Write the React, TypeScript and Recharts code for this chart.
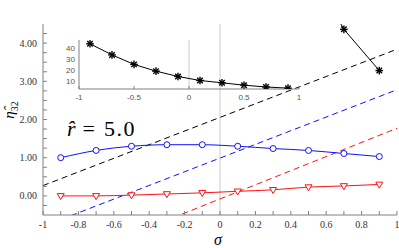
import React from 'react';
import { LineChart, Line, XAxis, YAxis, ReferenceLine } from 'recharts';

// ---- data ----
const sigma = [-0.9, -0.7, -0.5, -0.3, -0.1, 0.1, 0.3, 0.5, 0.7, 0.9];
const blueVals = [1.0, 1.19, 1.3, 1.34, 1.34, 1.3, 1.24, 1.19, 1.11, 1.03];
const redVals = [0.0, 0.0, 0.02, 0.05, 0.08, 0.12, 0.16, 0.23, 0.26, 0.3];
const starVals = [44.0, 33.8, 25.1, 18.9, 14.0, 10.3, 8.2, 6.0, 4.36, 3.28];
const dashX = [-1, 1];
const blackDash = [0.27, 3.84];
const blueDash = [-0.8, 2.78];
const redDash = [-1.93, 1.77];

const xTicks = [-1, -0.9, -0.8, -0.7, -0.6, -0.5, -0.4, -0.3, -0.2, -0.1, 0, 0.1, 0.2, 0.3, 0.4, 0.5, 0.6, 0.7, 0.8, 0.9, 1];
const xLabels = [-1, -0.8, -0.6, -0.4, -0.2, 0, 0.2, 0.4, 0.6, 0.8, 1];
const yTicks = [-0.25, 0, 0.25, 0.5, 0.75, 1, 1.25, 1.5, 1.75, 2, 2.25, 2.5, 2.75, 3, 3.25, 3.5, 3.75, 4, 4.25];
const yLabels = [0, 1, 2, 3, 4];
const insetXTicks = [-1, -0.5, 0, 0.5, 1];
const insetYTicks = [10, 20, 30, 40];

const zip = (xs: number[], ys: number[]) => xs.map((x, i) => ({ x, y: ys[i] }));

const blueData = zip(sigma, blueVals);
const redData = zip(sigma, redVals);
const starData = zip(sigma, starVals);
const blackDashData = zip(dashX, blackDash);
const blueDashData = zip(dashX, blueDash);
const redDashData = zip(dashX, redDash);

const AX = '#808080';
const SERIF = 'serif';
const SANS = 'Arial, Helvetica, sans-serif';

const isIn = (v: number, arr: number[]) => arr.some((a) => Math.abs(a - v) < 1e-6);

type TickOpts = {
  side: 'bottom' | 'top' | 'left' | 'right';
  labels: number[];
  showLabels: boolean;
  major: number;
  minor: number;
  off: number;
  fmt: (v: number) => string;
  font: string;
  size: number;
  color: string;
};

const makeTick = (o: TickOpts) => (props: any) => {
  const { x, y, payload } = props;
  const v = payload.value as number;
  const major = isIn(v, o.labels);
  const len = major ? o.major : o.minor;
  let x2 = x, y2 = y;
  if (o.side === 'bottom') y2 = y - len;
  if (o.side === 'top') y2 = y + len;
  if (o.side === 'left') x2 = x + len;
  if (o.side === 'right') x2 = x - len;
  let label = null;
  if (o.showLabels && major) {
    if (o.side === 'bottom') {
      label = (
        <text x={x} y={y + o.off} textAnchor="middle" style={{ fontFamily: o.font }} fontSize={o.size} fill={o.color}>
          {o.fmt(v)}
        </text>
      );
    } else if (o.side === 'left') {
      label = (
        <text x={x - o.off} y={y + o.size * 0.35} textAnchor="end" style={{ fontFamily: o.font }} fontSize={o.size} fill={o.color}>
          {o.fmt(v)}
        </text>
      );
    }
  }
  return (
    <g>
      {len > 0 ? <line x1={x} y1={y} x2={x2} y2={y2} stroke={AX} strokeWidth={1} /> : null}
      {label}
    </g>
  );
};

const fmtX = (v: number) => String(Math.round(v * 10) / 10);
const fmtY = (v: number) => v.toFixed(2);

const CircleDot = (props: any) => {
  const { cx, cy, index } = props;
  if (cx == null || cy == null) return <g key={index} />;
  return <circle key={index} cx={cx} cy={cy} r={3} stroke="#1010ff" strokeWidth={1} fill="white" />;
};

const TriDot = (props: any) => {
  const { cx, cy, index } = props;
  if (cx == null || cy == null) return <g key={index} />;
  const d = `M${cx - 3.5},${cy - 2.3} L${cx + 3.5},${cy - 2.3} L${cx},${cy + 3.7} Z`;
  return <path key={index} d={d} stroke="#ff1010" strokeWidth={1} fill="white" />;
};

const StarDot = (props: any) => {
  const { cx, cy, index } = props;
  if (cx == null || cy == null) return <g key={index} />;
  const r = 3.8;
  const q = r * 0.72;
  return (
    <g key={index} stroke="#000" strokeWidth={1.4}>
      <line x1={cx - r} y1={cy} x2={cx + r} y2={cy} />
      <line x1={cx} y1={cy - r} x2={cx} y2={cy + r} />
      <line x1={cx - q} y1={cy - q} x2={cx + q} y2={cy + q} />
      <line x1={cx - q} y1={cy + q} x2={cx + q} y2={cy - q} />
    </g>
  );
};

const mainTickCommon = { font: SERIF, size: 10, color: '#333', fmt: fmtX };
const insetTickCommon = { font: SANS, size: 8, color: '#555', fmt: fmtX };

export default function App() {
  return (
    <div style={{ position: 'absolute', left: 0, top: 0, width: 399, height: 248, background: 'white', overflow: 'hidden' }}>
      <div style={{ position: 'absolute', left: 0, top: 0 }}>
        <LineChart width={399} height={248} margin={{ top: 24, right: 2, bottom: 0, left: 0 }}>
          <XAxis
            xAxisId="b" type="number" dataKey="x" domain={[-1, 1]} allowDataOverflow ticks={xTicks} interval={0}
            height={33} tickSize={0} tickMargin={0} tickLine={false} axisLine={{ stroke: AX }}
            tick={makeTick({ ...mainTickCommon, side: 'bottom', labels: xLabels, showLabels: true, major: 4, minor: 4, off: 13 })}
          />
          <XAxis
            xAxisId="t" orientation="top" type="number" dataKey="x" domain={[-1, 1]} allowDataOverflow ticks={xTicks} interval={0}
            height={0} tickSize={0} tickMargin={0} tickLine={false} axisLine={{ stroke: AX }}
            tick={makeTick({ ...mainTickCommon, side: 'top', labels: xLabels, showLabels: false, major: 4, minor: 4, off: 0 })}
          />
          <YAxis
            yAxisId="l" type="number" domain={[-0.5, 4.5]} allowDataOverflow ticks={yTicks} interval={0}
            width={43} tickSize={0} tickMargin={0} tickLine={false} axisLine={{ stroke: AX }}
            tick={makeTick({ ...mainTickCommon, fmt: fmtY, side: 'left', labels: yLabels, showLabels: true, major: 4, minor: 4, off: 6 })}
          />
          <YAxis
            yAxisId="r" orientation="right" type="number" domain={[-0.5, 4.5]} allowDataOverflow ticks={yTicks} interval={0}
            width={0} tickSize={0} tickMargin={0} tickLine={false} axisLine={{ stroke: AX }}
            tick={makeTick({ ...mainTickCommon, fmt: fmtY, side: 'right', labels: yLabels, showLabels: false, major: 4, minor: 4, off: 0 })}
          />
          <ReferenceLine xAxisId="b" yAxisId="l" x={0} stroke="#cccccc" strokeWidth={1} />
          <Line xAxisId="b" yAxisId="l" data={blackDashData} dataKey="y" stroke="#000" strokeWidth={1} strokeDasharray="6 4" dot={false} isAnimationActive={false} />
          <Line xAxisId="b" yAxisId="l" data={blueDashData} dataKey="y" stroke="#1010ff" strokeWidth={1} strokeDasharray="6 4" dot={false} isAnimationActive={false} />
          <Line xAxisId="b" yAxisId="l" data={redDashData} dataKey="y" stroke="#ff1010" strokeWidth={1} strokeDasharray="6 4" dot={false} isAnimationActive={false} />
          <Line xAxisId="b" yAxisId="l" data={blueData} dataKey="y" type="monotone" stroke="#1010ff" strokeWidth={1} dot={CircleDot} isAnimationActive={false} />
          <Line xAxisId="b" yAxisId="l" data={redData} dataKey="y" type="monotone" stroke="#ff1010" strokeWidth={1} dot={TriDot} isAnimationActive={false} />
          <Line xAxisId="b" yAxisId="l" data={starData} dataKey="y" stroke="#000" strokeWidth={1} dot={StarDot} isAnimationActive={false} />
        </LineChart>
      </div>

      <div style={{ position: 'absolute', left: 0, top: 0 }}>
        <LineChart width={399} height={248} margin={{ top: 40, right: 100, bottom: 0, left: 0 }}>
          <XAxis
            xAxisId="b" type="number" dataKey="x" domain={[-1, 1]} allowDataOverflow ticks={insetXTicks} interval={0}
            height={159} tickSize={0} tickMargin={0} tickLine={false} axisLine={{ stroke: AX }}
            tick={makeTick({ ...insetTickCommon, side: 'bottom', labels: insetXTicks, showLabels: true, major: 3, minor: 0, off: 11 })}
          />
          <XAxis
            xAxisId="t" orientation="top" type="number" dataKey="x" domain={[-1, 1]} allowDataOverflow ticks={insetXTicks} interval={0}
            height={0} tickSize={0} tickMargin={0} tickLine={false} axisLine={{ stroke: AX }}
            tick={makeTick({ ...insetTickCommon, side: 'top', labels: insetXTicks, showLabels: false, major: 3, minor: 0, off: 0 })}
          />
          <YAxis
            yAxisId="l" type="number" domain={[2.5, 47.5]} allowDataOverflow ticks={insetYTicks} interval={0}
            width={79} tickSize={0} tickMargin={0} tickLine={false} axisLine={{ stroke: AX }}
            tick={makeTick({ ...insetTickCommon, fmt: (v) => String(v), side: 'left', labels: insetYTicks, showLabels: true, major: 0, minor: 0, off: 4 })}
          />
          <YAxis
            yAxisId="r" orientation="right" type="number" domain={[2.5, 47.5]} allowDataOverflow ticks={insetYTicks} interval={0}
            width={0} tickSize={0} tickMargin={0} tickLine={false} axisLine={{ stroke: AX }}
            tick={makeTick({ ...insetTickCommon, fmt: (v) => String(v), side: 'right', labels: insetYTicks, showLabels: false, major: 3, minor: 3, off: 0 })}
          />
          <ReferenceLine xAxisId="b" yAxisId="l" x={0} stroke="#cccccc" strokeWidth={1} />
          <Line xAxisId="b" yAxisId="l" data={starData} dataKey="y" stroke="#000" strokeWidth={1} dot={StarDot} isAnimationActive={false} />
        </LineChart>
      </div>

      <div style={{ position: 'absolute', left: 67, top: 116, fontFamily: SERIF, fontSize: 22, color: '#000', whiteSpace: 'nowrap', lineHeight: '26px' }}>
        <span style={{ fontStyle: 'italic' }}>r&#770;</span>
        <span style={{ margin: '0 9px 0 7px' }}>=</span>
        <span style={{ letterSpacing: 1.5 }}>5.0</span>
      </div>

      <div style={{ position: 'absolute', left: 214, top: 231, fontFamily: SERIF, fontSize: 16, fontStyle: 'italic', color: '#000', lineHeight: '18px' }}>
        σ
      </div>

      <div
        style={{
          position: 'absolute', left: 12, top: 110, transform: 'translate(-50%, -50%) rotate(-90deg)',
          fontFamily: SERIF, fontSize: 15, color: '#000', whiteSpace: 'nowrap', lineHeight: '18px',
        }}
      >
        <span style={{ fontStyle: 'italic' }}>η&#770;</span>
        <span style={{ fontSize: 10, verticalAlign: 'sub' }}>32</span>
      </div>
    </div>
  );
}
